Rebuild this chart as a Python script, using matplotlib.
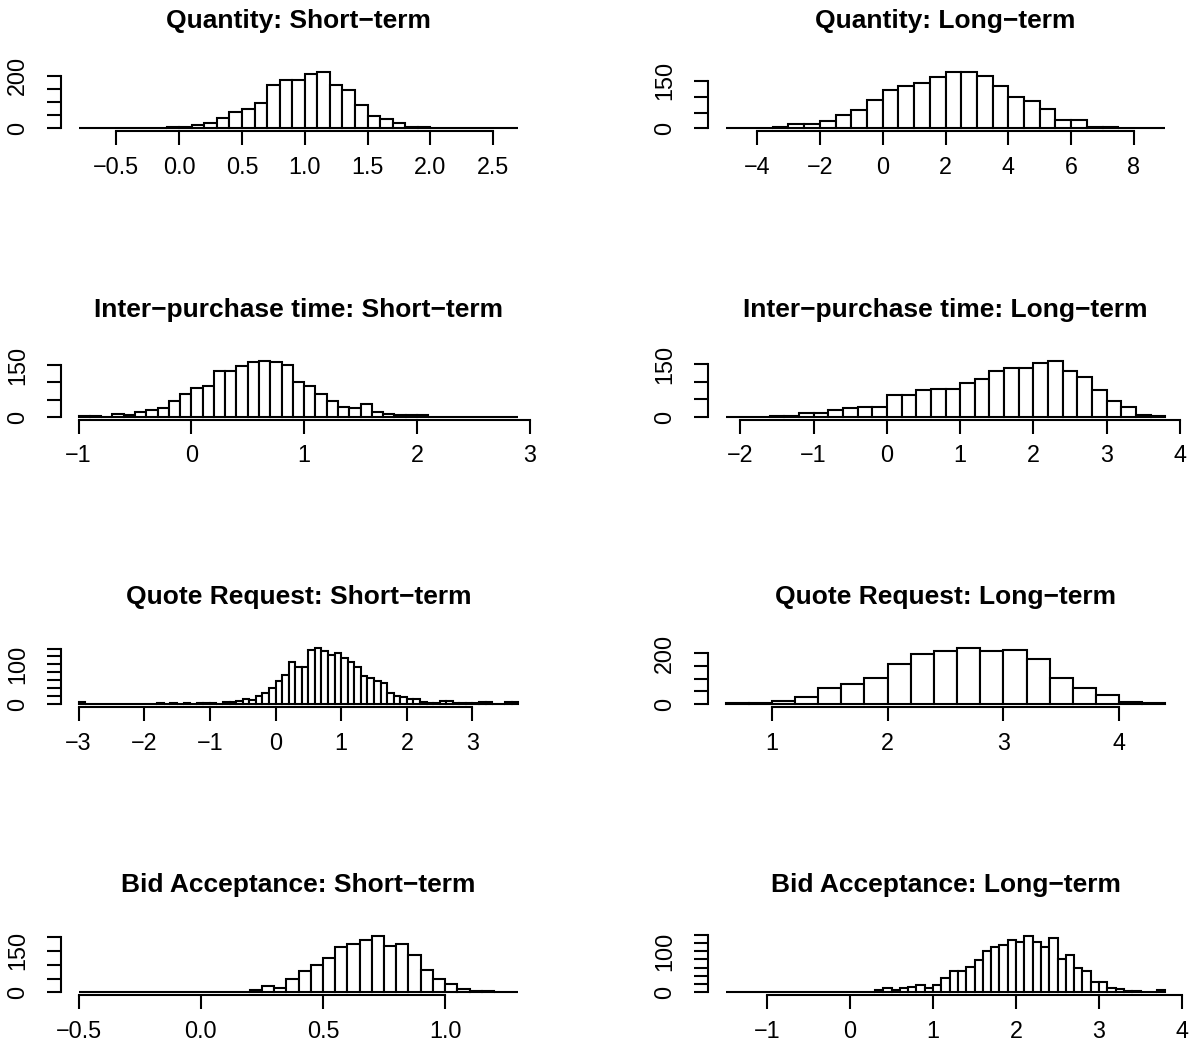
import numpy as np
import matplotlib
matplotlib.use('Agg')
import matplotlib.pyplot as plt

plt.rcParams['font.family'] = ['Liberation Sans', 'DejaVu Sans']

TICK_SIZE = 16.8
TITLE_SIZE = 19
LW = 1.5

# histogram counts: first break, bin width, counts
qty_short_start, qty_short_step = -0.8, 0.1
qty_short_counts = [0, 0, 0, 0, 0, 0, 0, 5, 5, 13, 22, 38, 62, 74, 96, 164, 182, 182,
                    205, 213, 164, 144, 90, 49, 35, 21, 6, 6, 0, 0, 0, 0, 0, 0, 0]

qty_long_start, qty_long_step = -5.0, 0.5
qty_long_counts = [0, 0, 1, 5, 13, 13, 24, 41, 57, 91, 120, 133, 144, 161, 177, 177,
                   166, 134, 99, 86, 62, 26, 27, 4, 4, 1, 0, 0]

ipt_short_start, ipt_short_step = -1.0, 0.1
ipt_short_counts = [4, 4, 1, 10, 7, 15, 20, 27, 47, 68, 83, 90, 132, 132, 147, 158, 163,
                    159, 150, 100, 90, 68, 45, 30, 25, 37, 15, 10, 5, 5, 5,
                    1, 1, 1, 1, 1, 1, 1, 1]

ipt_long_start, ipt_long_step = -2.2, 0.2
ipt_long_counts = [1, 1, 1, 3, 3, 10, 10, 20, 25, 29, 29, 62, 62, 76, 81, 81, 98, 108,
                   130, 139, 139, 155, 160, 130, 115, 78, 46, 29, 5, 2]

qr_short_start, qr_short_step = -3.0, 0.1
qr_short_counts = [4, 0, 0, 0, 0, 0, 0, 0, 0, 0, 0, 0,
                   3, 1, 3, 1, 3, 1, 3, 3, 2, 1,
                   5, 5, 8, 12, 10, 21, 27, 41,
                   57, 72, 107, 93, 93, 137, 142, 133, 123, 128, 115, 107, 93, 70, 66,
                   57, 53, 27, 21, 17, 13, 12, 6, 3, 3, 8, 8, 3, 3, 2, 2, 4, 4, 0, 0, 4, 4]

qr_long_start, qr_long_step = 0.6, 0.2
qr_long_counts = [2, 2, 13, 29, 61, 78, 104, 158, 195, 208, 221, 208, 214, 178, 104,
                  61, 35, 6, 2]

ba_short_start, ba_short_step = -0.5, 0.05
ba_short_counts = [0] * 12 + [2, 2, 8, 25, 17, 49, 76, 97, 123, 162, 175, 189, 202, 168,
                              175, 134, 82, 49, 31, 11, 5, 4, 1, 0]

ba_long_start, ba_long_step = -1.5, 0.1
ba_long_counts = [0] * 18 + [5, 10, 6, 10, 14, 19, 12, 17, 34, 53, 53, 62, 79, 100, 109,
                             114, 126, 123, 136, 122, 109, 132, 82, 91, 58, 53, 25, 25,
                             12, 8, 4, 4, 1, 1, 5]

titles = ['Quantity: Short\u2212term', 'Quantity: Long\u2212term',
          'Inter\u2212purchase time: Short\u2212term', 'Inter\u2212purchase time: Long\u2212term',
          'Quote Request: Short\u2212term', 'Quote Request: Long\u2212term',
          'Bid Acceptance: Short\u2212term', 'Bid Acceptance: Long\u2212term']

xticks = [[-0.5, 0, 0.5, 1, 1.5, 2, 2.5], [-4, -2, 0, 2, 4, 6, 8],
          [-1, 0, 1, 2, 3], [-2, -1, 0, 1, 2, 3, 4],
          [-3, -2, -1, 0, 1, 2, 3], [1, 2, 3, 4],
          [-0.5, 0, 0.5, 1.0], [-1, 0, 1, 2, 3, 4]]
xticklabels = [['\u22120.5', '0.0', '0.5', '1.0', '1.5', '2.0', '2.5'],
               ['\u22124', '\u22122', '0', '2', '4', '6', '8'],
               ['\u22121', '0', '1', '2', '3'],
               ['\u22122', '\u22121', '0', '1', '2', '3', '4'],
               ['\u22123', '\u22122', '\u22121', '0', '1', '2', '3'],
               ['1', '2', '3', '4'],
               ['\u22120.5', '0.0', '0.5', '1.0'],
               ['\u22121', '0', '1', '2', '3', '4']]
yticks = [[0, 50, 100, 150, 200], [0, 50, 100, 150],
          [0, 50, 100, 150], [0, 50, 100, 150],
          [0, 20, 40, 60, 80, 100, 120, 140], [0, 50, 100, 150, 200],
          [0, 50, 100, 150, 200], [0, 20, 40, 60, 80, 100, 120, 140]]
ylabels_shown = [[0, 200], [0, 150], [0, 150], [0, 150],
                 [0, 100], [0, 200], [0, 150], [0, 100]]

hist_data = [(qty_short_start, qty_short_step, qty_short_counts),
             (qty_long_start, qty_long_step, qty_long_counts),
             (ipt_short_start, ipt_short_step, ipt_short_counts),
             (ipt_long_start, ipt_long_step, ipt_long_counts),
             (qr_short_start, qr_short_step, qr_short_counts),
             (qr_long_start, qr_long_step, qr_long_counts),
             (ba_short_start, ba_short_step, ba_short_counts),
             (ba_long_start, ba_long_step, ba_long_counts)]

W, H = 1193, 1044
fig = plt.figure(figsize=(W / 100, H / 100), dpi=100)
col_x = [61, 708]
row_top = [70, 358.5, 645.5, 934]
ax_w, ax_h = 475, 61

for i, (start, step, counts) in enumerate(hist_data):
    r, c = divmod(i, 2)
    ax = fig.add_axes([col_x[c] / W, 1 - (row_top[r] + ax_h) / H, ax_w / W, ax_h / H])
    edges = start + step * np.arange(len(counts) + 1)
    ax.bar(edges[:-1], counts, width=step, align='edge', facecolor='white',
           edgecolor='black', linewidth=LW)

    # R style: 4% padding on both axes
    pad = 0.04 * (edges[-1] - edges[0])
    ax.set_xlim(edges[0] - pad, edges[-1] + pad)
    ymax = max(counts)
    ax.set_ylim(-0.045 * ymax, 1.04 * ymax)

    ax.set_xticks(xticks[i])
    ax.set_xticklabels(xticklabels[i])
    ax.set_yticks(yticks[i])
    ax.set_yticklabels([str(v) if v in ylabels_shown[i] else '' for v in yticks[i]],
                       rotation=90, va='center')

    for s in ['top', 'right']:
        ax.spines[s].set_visible(False)
    ax.spines['left'].set_bounds(yticks[i][0], yticks[i][-1])
    ax.spines['bottom'].set_bounds(xticks[i][0], xticks[i][-1])
    ax.spines['left'].set_linewidth(LW)
    ax.spines['bottom'].set_linewidth(LW)

    ax.tick_params(axis='both', direction='out', length=10, width=LW, labelsize=TICK_SIZE)
    ax.tick_params(axis='x', pad=8)
    ax.tick_params(axis='y', pad=13)

    ax.set_title(titles[i], fontsize=TITLE_SIZE, fontweight='bold', pad=30)

fig.savefig('out.png', dpi=100)
